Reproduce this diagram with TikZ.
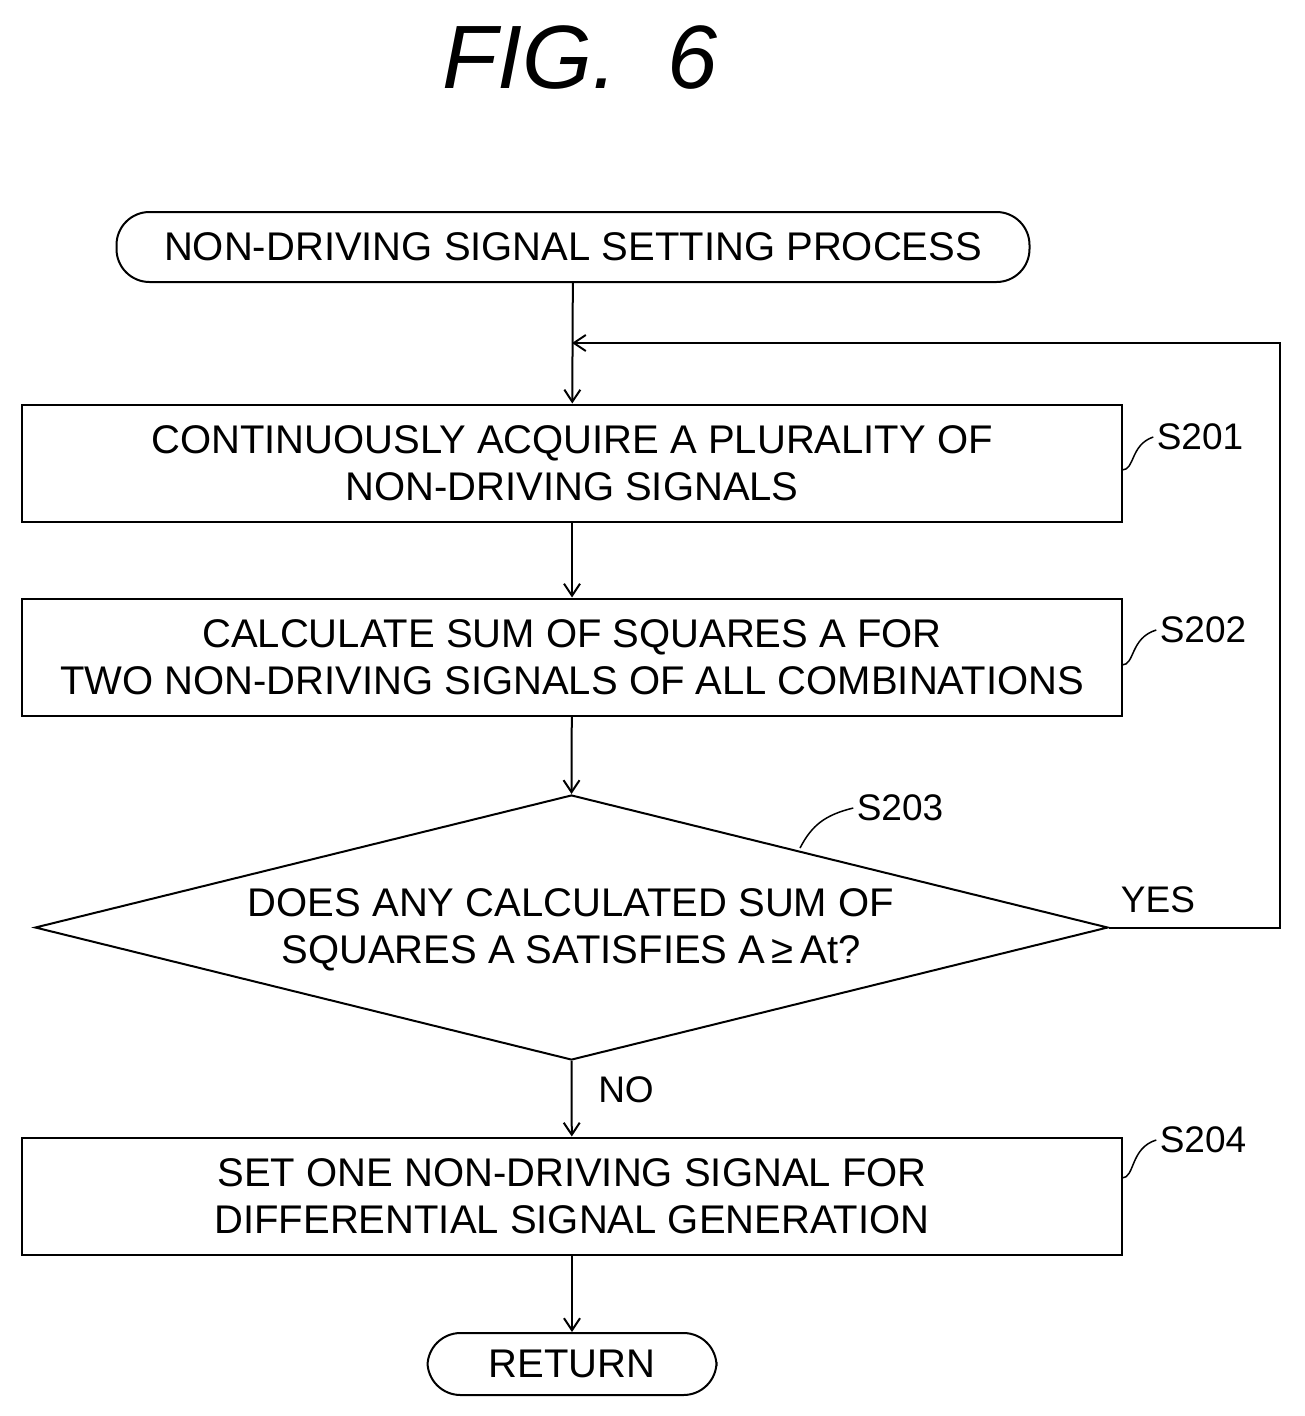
\documentclass[tikz,border=0pt]{standalone}
\usepackage{fontspec}
\setmainfont{Liberation Sans}
\usetikzlibrary{shapes.geometric,arrows.meta}
\begin{document}
\begin{tikzpicture}[x=1pt,y=-1pt,
  every node/.style={font=\fontsize{40}{47}\selectfont},
  box/.style={draw,line width=2pt,minimum width=1100pt,minimum height=117pt,align=center,inner sep=0pt},
  term/.style={draw,line width=2pt,rounded corners=33pt,align=center,inner sep=0pt},
  arr/.style={line width=2pt,-{Straight Barb[length=12pt,width=16pt,line width=2pt]}},
  lab/.style={font=\fontsize{37}{42}\selectfont},
  sq/.style={line width=1.5pt}]
\useasboundingbox (0,0) rectangle (1305,1416);
\node[font=\fontsize{90}{100}\selectfont\itshape] (title) at (580,58) {FIG.~~6};
\node[term,minimum width=913pt,minimum height=70pt] (start) at (573,247) {NON-DRIVING SIGNAL SETTING PROCESS};
\node[box] (s201) at (572,463) {CONTINUOUSLY ACQUIRE A PLURALITY OF\\NON-DRIVING SIGNALS};
\node[box] (s202) at (572,657) {CALCULATE SUM OF SQUARES A FOR\\TWO NON-DRIVING SIGNALS OF ALL COMBINATIONS};
\node[draw,line width=2pt,diamond,minimum width=1073pt,minimum height=265pt,inner sep=0pt,aspect=4] (s203) at (571.5,927.5) {};
\node[align=center] (t203) at (571,930) {DOES ANY CALCULATED SUM OF\\SQUARES A SATISFIES A\,≥\,At?};
\node[box] (s204) at (572,1196) {SET ONE NON-DRIVING SIGNAL FOR\\DIFFERENTIAL SIGNAL GENERATION};
\node[term,minimum width=289pt,minimum height=62pt] (ret) at (572,1364) {RETURN};
\coordinate (lp1) at (1280,927.5);
\coordinate (lp2) at (1280,343);
\coordinate (lp3) at (572,343);
\draw[arr] (start) -- (s201);
\draw[arr] (s201) -- (s202);
\draw[arr] (s202) -- (s203.north);
\draw[arr] (s203.south) -- (s204);
\draw[arr] (s204) -- (ret);
\draw[line width=2pt] (s203.east) -- (lp1) -- (lp2) -- (lp3);
\draw[arr] (1000,343) -- (lp3);
\node[lab] (yes) at (1158,900) {YES};
\node[lab] (no) at (626,1090) {NO};
\node[lab] (l201) at (1200,437) {S201};
\node[lab] (l202) at (1203,630) {S202};
\node[lab] (l203) at (900,808) {S203};
\node[lab] (l204) at (1203,1140) {S204};
\draw[sq] (1122,470) .. controls (1135,470) and (1130,445) .. (l201.west);
\draw[sq] (1122,665) .. controls (1135,665) and (1130,638) .. (l202.west);
\draw[sq] (800,848) .. controls (812,825) and (825,815) .. (l203.west);
\draw[sq] (1122,1178) .. controls (1135,1178) and (1130,1148) .. (l204.west);
\end{tikzpicture}
\end{document}
